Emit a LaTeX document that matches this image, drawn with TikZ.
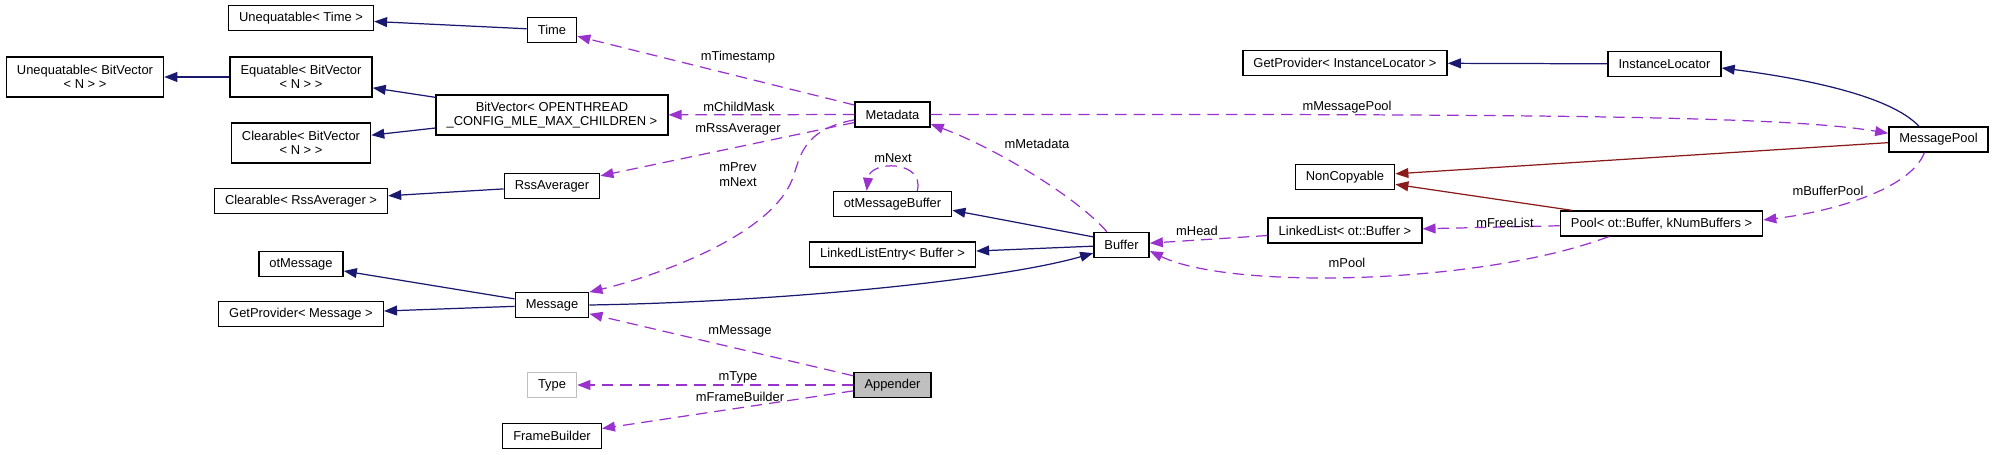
\documentclass[tikz,border=0pt]{standalone}
\usepackage{fontspec}
\setmainfont{Liberation Sans}
\usepackage{tikz}
\usetikzlibrary{arrows.meta}

\definecolor{inhColor}{HTML}{191970}
\definecolor{privColor}{HTML}{8B1A1A}
\definecolor{memberColor}{HTML}{9A32CD}
\definecolor{focusColor}{HTML}{BFBFBF}

\tikzset{
    cls/.style={draw=black, line width=0.8pt, fill=white,
        font=\fontsize{7.35}{8.3}\selectfont, inner xsep=6pt, inner ysep=2pt,
        minimum height=14.2pt, align=center},
    clsTwo/.style={cls, minimum height=22.8pt},
    lbl/.style={font=\fontsize{7.35}{8.5}\selectfont, inner sep=0pt, align=center},
    inherit/.style={draw=inhColor, line width=0.7pt, -{Triangle[length=7.4pt,width=5.6pt]}},
    privinh/.style={draw=privColor, line width=0.7pt, -{Triangle[length=7.4pt,width=5.6pt]}},
    member/.style={draw=memberColor, line width=0.7pt, dash pattern=on 6.5pt off 4pt,
        -{Triangle[length=7.4pt,width=5.6pt]}}
}

\begin{document}
\begin{tikzpicture}[x=0.02cm, y=-0.02cm]

\useasboundingbox (0,0) rectangle (1995,455);

% Column 1 and 2: base classes
\node[clsTwo] (uneqBV) at (85,77) {Unequatable< BitVector\\< N > >};
\node[cls] (uneqTime) at (301,18) {Unequatable< Time >};
\node[clsTwo] (equatBV) at (301,77) {Equatable< BitVector\\< N > >};
\node[clsTwo] (clearBV) at (301,143) {Clearable< BitVector\\< N > >};
\node[cls] (clearRss) at (301,201) {Clearable< RssAverager >};
\node[cls] (otMessage) at (301,264) {otMessage};
\node[cls] (getProvMsg) at (301,314) {GetProvider< Message >};

% Column 3
\node[cls] (time) at (552,30) {Time};
\node[clsTwo] (bitVector) at (552,115) {BitVector< OPENTHREAD\\\_CONFIG\_MLE\_MAX\_CHILDREN >};
\node[cls] (rssAvg) at (552,186) {RssAverager};
\node[cls] (message) at (552,305) {Message};
\node[cls, draw=focusColor] (type) at (552,385) {Type};
\node[cls] (frameBuilder) at (552,436) {FrameBuilder};

% Column 4
\node[cls] (metadata) at (892.5,114.5) {Metadata};
\node[cls] (otMsgBuf) at (892.5,204) {otMessageBuffer};
\node[cls] (llEntry) at (892.5,254.5) {LinkedListEntry< Buffer >};
\node[cls, fill=focusColor] (appender) at (892.5,385) {Appender};

% Column 5 and 6
\node[cls] (buffer) at (1121.5,245) {Buffer};
\node[cls] (getProvIL) at (1345,63) {GetProvider< InstanceLocator >};
\node[cls] (nonCopy) at (1345,177) {NonCopyable};
\node[cls] (linkedList) at (1345,230.5) {LinkedList< ot::Buffer >};

% Column 7 and 8
\node[cls] (instLoc) at (1664.5,64) {InstanceLocator};
\node[cls] (pool) at (1661.5,223.5) {Pool< ot::Buffer, kNumBuffers >};
\node[cls] (msgPool) at (1938.5,139.5) {MessagePool};

% Public inheritance
\draw[inherit] (time) -- (uneqTime);
\draw[inherit] (equatBV) -- (uneqBV);
\draw[inherit] (bitVector) -- (equatBV);
\draw[inherit] (bitVector) -- (clearBV);
\draw[inherit] (rssAvg) -- (clearRss);
\draw[inherit] (message) -- (otMessage);
\draw[inherit] (message) -- (getProvMsg);
\draw[inherit] (message.east) .. controls (780,302) and (1000,280) .. (buffer.196);
\draw[inherit] (buffer.164) -- (otMsgBuf.-6);
\draw[inherit] (buffer) -- (llEntry);
\draw[inherit] (instLoc) -- (getProvIL);
\draw[inherit] (msgPool.146) .. controls (1890,95) and (1800,78) .. (instLoc.-4);

% Private inheritance
\draw[privinh] (msgPool) -- (nonCopy);
\draw[privinh] (pool) -- (nonCopy);

% Members
\draw[member] (metadata) -- (time);
\draw[member] (metadata) -- (bitVector);
\draw[member] (metadata) -- (rssAvg);
\draw[member] (metadata.188) .. controls (800,130) and (800,160) .. (792,180)
    .. controls (770,235) and (660,275) .. (message.19);
\draw[member] (metadata.east) .. controls (1500,114) and (1780,115) .. (msgPool.173);
\draw[member] (buffer.138) .. controls (1080,200) and (1000,150) .. (metadata.-14);
\draw[member] (otMsgBuf.28) .. controls (925,160) and (870,160) .. (otMsgBuf.153);
\draw[member] (linkedList) -- (buffer);
\draw[member] (pool.194) .. controls (1480,285) and (1230,290) .. (buffer.-12);
\draw[member] (pool) -- (linkedList);
\draw[member] (msgPool.223) .. controls (1910,190) and (1830,212) .. (pool.2);
\draw[member] (appender) -- (message);
\draw[member] (appender) -- (type);
\draw[member] (appender) -- (frameBuilder);

% Member labels
\node[lbl] (lblTimestamp) at (738,57) {mTimestamp};
\node[lbl] (lblChildMask) at (739,107) {mChildMask};
\node[lbl] (lblRssAvg) at (738,129) {mRssAverager};
\node[lbl] (lblPrevNext) at (738,175) {mPrev\\mNext};
\node[lbl] (lblNext) at (893,158) {mNext};
\node[lbl] (lblMetadata) at (1037,144) {mMetadata};
\node[lbl] (lblMsgPool) at (1347,107) {mMessagePool};
\node[lbl] (lblBufferPool) at (1828,191) {mBufferPool};
\node[lbl] (lblFreeList) at (1505,223) {mFreeList};
\node[lbl] (lblHead) at (1197,231) {mHead};
\node[lbl] (lblPool) at (1347,263) {mPool};
\node[lbl] (lblMessage) at (740,331) {mMessage};
\node[lbl] (lblType) at (738,377) {mType};
\node[lbl] (lblFrameBuilder) at (740,397) {mFrameBuilder};

\end{tikzpicture}
\end{document}
